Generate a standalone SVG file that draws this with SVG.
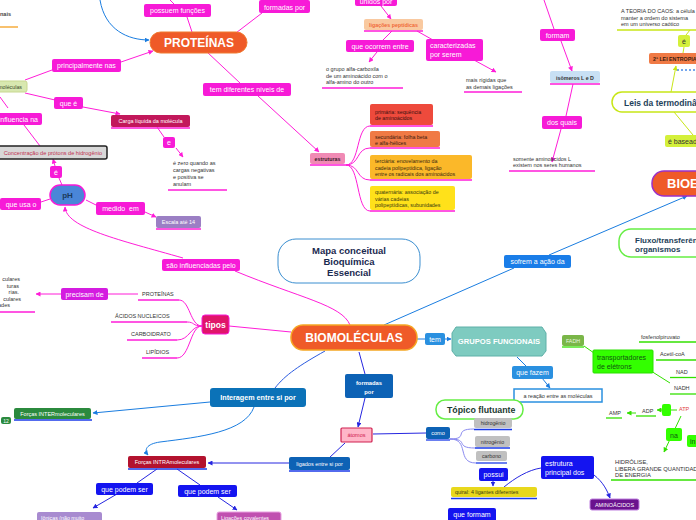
<svg xmlns="http://www.w3.org/2000/svg" width="696" height="520" viewBox="0 0 696 520">
<defs>
<style>
text{font-family:"Liberation Sans",Arial,sans-serif}
.mg{fill:#f71ad7}
.mt{fill:#fff;font-size:7px;text-anchor:middle}
.sm{fill:#333;font-size:5.5px}
.wb{fill:#fff;font-size:5.5px;text-anchor:middle}
.lm{stroke:#ff1dd8;fill:none;stroke-width:1}
.lb{stroke:#1a7de0;fill:none;stroke-width:1}
.ld{stroke:#2626e0;fill:none;stroke-width:1}
.lg{stroke:#33e000;fill:none;stroke-width:1}
.ly{stroke:#c8e617;fill:none;stroke-width:1}
.um{stroke:#ff1dd8;stroke-width:1.3}
.ub{stroke:#1a3ae8;stroke-width:1.3}
.ug{stroke:#33e000;stroke-width:1.3}
.bt{fill:#1e3f5a;font-weight:bold}
</style>
<marker id="am" viewBox="0 0 10 10" refX="9" refY="5" markerWidth="5" markerHeight="5" orient="auto"><path d="M0 0L10 5L0 10z" fill="#ff1dd8"/></marker>
<marker id="ab" viewBox="0 0 10 10" refX="9" refY="5" markerWidth="5" markerHeight="5" orient="auto"><path d="M0 0L10 5L0 10z" fill="#1a7de0"/></marker>
<marker id="ad" viewBox="0 0 10 10" refX="9" refY="5" markerWidth="5" markerHeight="5" orient="auto"><path d="M0 0L10 5L0 10z" fill="#2626e0"/></marker>
<marker id="ag" viewBox="0 0 10 10" refX="9" refY="5" markerWidth="5" markerHeight="5" orient="auto"><path d="M0 0L10 5L0 10z" fill="#33e000"/></marker>
<marker id="ay" viewBox="0 0 10 10" refX="9" refY="5" markerWidth="5" markerHeight="5" orient="auto"><path d="M0 0L10 5L0 10z" fill="#c8e617"/></marker>
</defs>
<rect width="696" height="520" fill="#fff"/>

<g id="connectors">
<path class="lb" d="M100 0C105 30 128 40 149 40" marker-end="url(#ab)"/>
<path class="lm" d="M170 0L174 4M187 17L192 32"/>
<path class="lm" d="M232 36L262 13"/>
<path class="lm" d="M381 6L391 19" marker-end="url(#am)"/>
<path class="lm" d="M392 31L383 40"/>
<path class="lm" d="M377 52L369 62" marker-end="url(#am)"/>
<path class="lm" d="M417 31L433 40"/>
<path class="lm" d="M474 60L496 72" marker-end="url(#am)"/>
<path class="lm" d="M544 0L554 29"/>
<path class="lm" d="M561 41L572 71" marker-end="url(#am)"/>
<path class="lm" d="M573 84L566 116"/>
<path class="lm" d="M561 129L552 162" marker-end="url(#am)"/>
<path class="lm" d="M207 52L240 83"/>
<path class="lm" d="M258 96L319 152" marker-end="url(#am)"/>
<path class="lm" d="M346 165C360 165 356 126 370 126M346 165C360 165 356 148 370 148M346 165C360 165 356 180 370 180M346 165C360 165 356 211 370 211"/>
<path class="lm" d="M25 80L52 70M121 62L153 51" marker-end="url(#am)"/>
<path class="lm" d="M25 93L55 100"/>
<path class="lm" d="M83 107L120 114" marker-end="url(#am)"/>
<path class="lm" d="M0 97L8 108M24 125L40 146"/>
<path class="lm" d="M157 127L164 137"/>
<path class="lm" d="M176 148L183 157" marker-end="url(#am)"/>
<path class="lm" d="M62 185L59 178"/>
<path class="lm" d="M55 166L53 159" marker-end="url(#am)"/>
<path class="lm" d="M50 199L41 202"/>
<path class="lm" d="M86 200L96 205"/>
<path class="lm" d="M145 212L156 217" marker-end="url(#am)"/>
<path class="lm" d="M183 258C120 240 66 228 65 207" marker-end="url(#am)"/>
<path class="lm" d="M235 271C300 298 342 305 350 325"/>
<path class="lm" d="M229 326L291 332"/>
<path class="lm" d="M202 326C190 326 190 300 179 300M202 326C192 326 195 322 187 322M202 326C190 326 190 340 177 340M202 326C190 326 190 358 177 358"/>
<path class="lm" d="M138 294L108 294"/>
<path class="lm" d="M61 294L36 294" marker-end="url(#am)"/>
<path class="lb" d="M549 255L687 196" marker-end="url(#ab)"/>
<path class="lb" d="M384 325L514 268"/>
<path class="lb" d="M417 339L425 339"/>
<path class="lb" d="M445 339L451 339" marker-end="url(#ab)"/>
<path class="lb" d="M517 357L526 366"/>
<path class="lb" d="M542 378L550 388" marker-end="url(#ab)"/>
<path class="lb" d="M325 351C300 365 285 375 275 388" style="stroke:#2a5ae0"/>
<path class="ld" d="M359 352L365 374"/>
<path class="lb" d="M210 402L93 413" marker-end="url(#ab)"/>
<path class="lb" d="M254 407C245 432 200 437 160 442C146 444 144 450 148 455" marker-end="url(#ab)"/>
<path class="ld" d="M289 463L208 463" marker-end="url(#ad)"/>
<path class="ld" d="M157 469L137 483"/>
<path class="ld" d="M117 494L93 508" marker-end="url(#ad)"/>
<path class="ld" d="M177 469L200 485"/>
<path class="ld" d="M218 497L237 510" marker-end="url(#ad)"/>
<path class="ld" d="M365 398L358 427" marker-end="url(#ad)"/>
<path class="ld" d="M345 443L329 458"/>
<path class="ld" d="M373 434L426 433"/>
<path class="ld" d="M450 439C470 439 452 429 474 429M450 439C470 439 454 448 475 448M450 439C470 439 456 463 476 463" style="stroke:#8a8af0"/>
<path class="ld" d="M493 481L493 486" marker-end="url(#ad)"/>
<path class="ld" d="M504 487C515 478 528 470 541 468"/>
<path class="ld" d="M594 475C603 482 607 490 610 498" marker-end="url(#ad)"/>
<path class="lg" d="M584 346L594 353"/>
<path class="lg" d="M651 371L670 383"/>
<path class="lg" d="M681 416L664 452" marker-end="url(#ag)"/>
<path class="lg" d="M662 410L657 410" marker-end="url(#ag)"/>
<path class="lg" d="M636 413L627 413" marker-end="url(#ag)"/>
<path class="lg" d="M671 410L677 410"/>
<path class="ly" d="M671 92L676 66" marker-end="url(#ay)"/>
<path class="ly" d="M683 53L684 47M686 35L690 30"/>
<path class="ly" d="M674 112L693 135"/>
</g>

<g id="n-nais"><text x="0" y="16" style="fill:#444;font-size:5.5px;font-weight:bold">nais</text><line x1="0" y1="27" x2="18" y2="27" stroke="#f5a020" stroke-width="1.3"/></g>
<g id="n-proteinas"><rect x="150" y="32" width="97" height="21" rx="10.5" fill="#ef5a28" stroke="#f07a30"/><text x="199" y="47" style="fill:#fff;font-size:12px;font-weight:bold;text-anchor:middle">PROTEÍNAS</text></g>
<g id="n-possuem"><rect class="mg" x="144" y="4" width="67" height="13" rx="2"/><text class="mt" x="177.5" y="13">possuem funções</text></g>
<g id="n-formadas1"><rect class="mg" x="259" y="0" width="51" height="13" rx="2"/><text class="mt" x="284.5" y="9.5">formadas por</text></g>
<g id="n-unidos"><rect class="mg" x="355" y="-4" width="42" height="10" rx="2"/><text class="mt" x="376" y="3.5">unidos por</text></g>
<g id="n-ligpep"><rect x="364" y="19" width="59" height="11" rx="2" fill="#f9c9a0"/><line class="um" x1="364" y1="31" x2="423" y2="31"/><text x="393.5" y="27" style="fill:#f06a3a;font-size:5.3px;font-weight:bold;text-anchor:middle">ligações peptídicas</text></g>
<g id="n-ocorrem"><rect class="mg" x="346" y="40" width="68" height="12" rx="2"/><text class="mt" x="380" y="48.5">que ocorrem entre</text></g>
<g id="n-grupo"><text class="sm" x="326" y="71">o grupo alfa-carboxila</text><text class="sm" x="326" y="77.5">de um aminoácido com o</text><text class="sm" x="326" y="84">alfa-amino do outro</text><line class="um" x1="322" y1="88" x2="403" y2="88"/></g>
<g id="n-caract"><rect class="mg" x="426" y="39" width="57" height="22" rx="2"/><text x="430" y="48" style="fill:#fff;font-size:7px">caracterizadas</text><text x="430" y="57" style="fill:#fff;font-size:7px">por serem</text></g>
<g id="n-rigidas"><text class="sm" x="466" y="82">mais rígidas que</text><text class="sm" x="466" y="88.5">as demais ligações</text><line class="um" x1="464" y1="92" x2="522" y2="92"/></g>
<g id="n-formam"><rect class="mg" x="540" y="29" width="35" height="12" rx="2"/><text class="mt" x="557.5" y="37.5">formam</text></g>
<g id="n-isomeros"><rect x="550" y="71" width="50" height="12" rx="2" fill="#c8e0f4"/><line class="um" x1="550" y1="84" x2="600" y2="84"/><text x="575" y="79.5" style="fill:#333;font-size:5.3px;font-weight:bold;text-anchor:middle">isômeros L e D</text></g>
<g id="n-dosquais"><rect class="mg" x="542" y="116" width="40" height="13" rx="2"/><text class="mt" x="562" y="125">dos quais</text></g>
<g id="n-somente"><text class="sm" x="513" y="160.5">somente aminoácidos L</text><text class="sm" x="513" y="167">existem nos seres humanos</text><line class="um" x1="509" y1="171" x2="595" y2="171"/></g>
<g id="n-caos"><text class="sm" x="621" y="13">A TEORIA DO CAOS: a célula luta para</text><text class="sm" x="621" y="19.5">manter a ordem do sistema</text><text class="sm" x="621" y="26">em um universo caótico</text><line x1="617" y1="30" x2="696" y2="30" stroke="#c8e617" stroke-width="1.3"/></g>
<g id="n-e1"><rect x="678" y="35" width="12" height="12" rx="2" fill="#d4f03a"/><text x="684" y="44" style="fill:#333;font-size:7px;text-anchor:middle">é</text></g>
<g id="n-lei"><rect x="649" y="53" width="50" height="11" rx="2" fill="#f07a45"/><text x="653" y="60.5" style="fill:#3a1a10;font-size:5.3px;font-weight:bold">2ª LEI ENTROPIA</text><line x1="677" y1="70" x2="696" y2="70" stroke="#4a8ae8" stroke-width="1.5" stroke-dasharray="2,2"/></g>
<g id="n-leis"><rect x="612" y="92" width="95" height="20" rx="10" fill="#fff" stroke="#c8e617" stroke-width="1.5"/><text class="bt" x="624" y="106" style="font-size:8.5px">Leis da termodinâmica</text></g>
<g id="n-baseado"><rect x="665" y="135" width="36" height="12" rx="2" fill="#d4f03a"/><text x="668" y="144" style="fill:#333;font-size:7px">é baseado</text></g>
<g id="n-bioe"><rect x="652" y="171" width="70" height="25" rx="12" fill="#ef5a28" stroke="#9b30c8" stroke-width="1.5"/><text x="667" y="188" style="fill:#fff;font-size:13px;font-weight:bold">BIOENERGÉTICA</text></g>
<g id="n-fluxo"><rect x="619" y="229" width="95" height="28" rx="12" fill="#fff" stroke="#66ee44" stroke-width="1.5"/><text class="bt" x="635" y="243" style="font-size:8px">Fluxo/transferência</text><text class="bt" x="635" y="251.5" style="font-size:8px">organismos</text></g>
<g id="n-sofrem"><rect x="504" y="255" width="67" height="13" rx="2" fill="#1a7de8"/><text class="mt" x="537.5" y="264">sofrem a ação da</text></g>
<g id="n-mapa"><rect x="278" y="239" width="142" height="44" rx="18" fill="#fff" stroke="#3a8ed0"/><text x="349" y="254" style="fill:#1a2a50;font-size:9.5px;font-weight:bold;text-anchor:middle">Mapa conceitual</text><text x="349" y="265" style="fill:#1a2a50;font-size:9.5px;font-weight:bold;text-anchor:middle">Bioquímica</text><text x="349" y="276" style="fill:#1a2a50;font-size:9.5px;font-weight:bold;text-anchor:middle">Essencial</text></g>
<g id="n-biomol"><rect x="291" y="325" width="126" height="25" rx="12" fill="#ef5a28" stroke="#f5a623" stroke-width="1.5"/><text x="354" y="342" style="fill:#fff;font-size:12px;font-weight:bold;text-anchor:middle">BIOMOLÉCULAS</text></g>
<g id="n-tem"><rect x="425" y="333" width="20" height="12" rx="2" fill="#2a90e0"/><text class="mt" x="435" y="341.5">tem</text></g>
<g id="n-grupos"><path d="M456 327L542 327L546 333L546 351L542 356L456 356L452 351L452 333Z" fill="#7ecbc0" stroke="#5fb0a8"/><text x="499" y="344" style="fill:#fff;font-size:7.6px;font-weight:bold;text-anchor:middle">GRUPOS FUNCIONAIS</text></g>
<g id="n-fazem"><rect x="512" y="366" width="41" height="13" rx="2" fill="#2a90e0"/><text class="mt" x="532.5" y="375">que fazem</text></g>
<g id="n-reacao"><rect x="514" y="389" width="88" height="13" fill="#fff" stroke="#2a90e0" stroke-width="1.5"/><text class="sm" x="558" y="398" style="text-anchor:middle">a reação entre as moléculas</text></g>
<g id="n-tipos"><rect x="202" y="315" width="27" height="19" rx="3" fill="#e0156a" stroke="#f71ad7"/><text x="215.5" y="328" style="fill:#fff;font-size:8.5px;font-weight:bold;text-anchor:middle">tipos</text></g>
<g id="n-t-prot"><text class="sm" x="142" y="296">PROTEÍNAS</text><line class="um" x1="138" y1="300" x2="179" y2="300"/></g>
<g id="n-t-acid"><text class="sm" x="115" y="318">ÁCIDOS NUCLEICOS</text><line class="um" x1="111" y1="322" x2="187" y2="322"/></g>
<g id="n-t-carb"><text class="sm" x="131" y="336">CARBOIDRATO</text><line class="um" x1="127" y1="340" x2="177" y2="340"/></g>
<g id="n-t-lip"><text class="sm" x="146" y="354">LIPÍDIOS</text><line class="um" x1="142" y1="358" x2="177" y2="358"/></g>
<g id="n-precisam"><rect x="61" y="288" width="47" height="12" rx="2" fill="#d41ce0"/><text class="mt" x="84.5" y="296.5">precisam de</text></g>
<g id="n-culares"><text class="sm" x="20" y="281" style="text-anchor:end">culares</text><text class="sm" x="19" y="287.5" style="text-anchor:end">turas</text><text class="sm" x="19" y="294" style="text-anchor:end">rias.</text><text class="sm" x="21" y="300.5" style="text-anchor:end">culares</text><text class="sm" x="10" y="307" style="text-anchor:end">ades</text><line class="um" x1="0" y1="312" x2="35" y2="312"/></g>
<g id="n-influenciadas"><rect class="mg" x="162" y="259" width="78" height="12" rx="2"/><text class="mt" x="201" y="267.5">são influenciadas pelo</text></g>
<g id="n-ph"><rect x="50" y="185" width="35" height="20" rx="10" fill="#4a86d8" stroke="#f71ad7" stroke-width="1.5"/><text x="67.5" y="198" style="fill:#1a3a5a;font-size:8px;font-weight:bold;text-anchor:middle">pH</text></g>
<g id="n-e2"><rect class="mg" x="50" y="166" width="12" height="12" rx="2"/><text class="mt" x="56" y="174.5">é</text></g>
<g id="n-conc"><rect x="-5" y="146" width="112" height="13" rx="2" fill="#d8d8d8" stroke="#222" stroke-width="1.5"/><text x="102" y="155" style="fill:#c03050;font-size:5.6px;text-anchor:end">Concentração de prótons de hidrogênio</text></g>
<g id="n-influencia"><rect class="mg" x="-5" y="113" width="47" height="12" rx="2"/><text x="38" y="121.5" style="fill:#fff;font-size:7px;text-anchor:end">influencia na</text></g>
<g id="n-usa"><rect class="mg" x="0" y="198" width="41" height="12" rx="2"/><text class="mt" x="21" y="206.5">que usa o</text></g>
<g id="n-medido"><rect class="mg" x="96" y="202" width="49" height="13" rx="2"/><text class="mt" x="120.5" y="211" xml:space="preserve">medido  em</text></g>
<g id="n-escala"><rect x="156" y="216" width="45" height="12" rx="2" fill="#9b7fc4"/><line class="um" x1="156" y1="229" x2="201" y2="229"/><text class="wb" x="178.5" y="224">Escala até 14</text></g>
<g id="n-molec"><rect x="-5" y="81" width="32" height="11" rx="2" fill="#d8e8b0" stroke="#c8d890"/><text x="22" y="88.5" style="fill:#3a4a2a;font-size:5.3px;text-anchor:end">moléculas</text></g>
<g id="n-principal"><rect class="mg" x="52" y="59" width="69" height="13" rx="2"/><text class="mt" x="86.5" y="68">principalmente nas</text></g>
<g id="n-quee"><rect class="mg" x="54" y="97" width="29" height="12" rx="2"/><text class="mt" x="68.5" y="105.5">que é</text></g>
<g id="n-carga"><rect x="111" y="115" width="79" height="12" rx="2" fill="#c2185b"/><line class="um" x1="111" y1="128" x2="190" y2="128"/><text class="wb" x="150.5" y="123">Carga líquida da molécula</text></g>
<g id="n-e3"><rect class="mg" x="163" y="137" width="12" height="11" rx="2"/><text class="mt" x="169" y="145">e</text></g>
<g id="n-zero"><text class="sm" x="173" y="165">é zero quando as</text><text class="sm" x="173" y="172">cargas negativas</text><text class="sm" x="173" y="178.5">e positiva se</text><text class="sm" x="173" y="185.5">anulam</text><line class="um" x1="168" y1="190" x2="227" y2="190"/></g>
<g id="n-niveis"><rect class="mg" x="203" y="83" width="88" height="13" rx="2"/><text class="mt" x="247" y="92">tem diferentes níveis de</text></g>
<g id="n-estruturas"><rect x="310" y="153" width="35" height="11" rx="2" fill="#f08ab4"/><line class="um" x1="310" y1="165" x2="346" y2="165"/><text x="327.5" y="161" style="fill:#3a1a2a;font-size:5.3px;font-weight:bold;text-anchor:middle">estruturas</text></g>
<g id="n-primaria"><rect x="370" y="104" width="63" height="21" rx="2" fill="#ee4a3c"/><line class="um" x1="370" y1="126" x2="433" y2="126"/><text x="375" y="113.5" style="fill:#3a1010;font-size:5.3px">primária: sequência</text><text x="375" y="120" style="fill:#3a1010;font-size:5.3px">de aminoácidos</text></g>
<g id="n-secundaria"><rect x="370" y="131" width="70" height="16" rx="2" fill="#f07a45"/><line class="um" x1="370" y1="148" x2="440" y2="148"/><text x="375" y="139" style="fill:#3a1a10;font-size:5.3px">secundária: folha beta</text><text x="375" y="145" style="fill:#3a1a10;font-size:5.3px">e alfa-hélices</text></g>
<g id="n-terciaria"><rect x="370" y="155" width="102" height="24" rx="2" fill="#fbb829"/><line class="um" x1="370" y1="180" x2="472" y2="180"/><text x="375" y="163" style="fill:#3a2a10;font-size:5.3px">terciária: enovelamento da</text><text x="375" y="169.5" style="fill:#3a2a10;font-size:5.3px">cadeia polipeptídica, ligação</text><text x="375" y="176" style="fill:#3a2a10;font-size:5.3px">entre os radicais dos aminoácidos</text></g>
<g id="n-quaternaria"><rect x="370" y="186" width="85" height="24" rx="2" fill="#ffe11a"/><line class="um" x1="370" y1="211" x2="455" y2="211"/><text x="375" y="194" style="fill:#3a3a10;font-size:5.3px">quaternária: associação de</text><text x="375" y="200.5" style="fill:#3a3a10;font-size:5.3px">várias cadeias</text><text x="375" y="207" style="fill:#3a3a10;font-size:5.3px">polipeptídicas, subunidades</text></g>
<g id="n-interagem"><rect x="210" y="388" width="96" height="19" rx="3" fill="#0b72b8"/><text x="258" y="400" style="fill:#fff;font-size:7.2px;font-weight:bold;text-anchor:middle">Interagem entre si por</text></g>
<g id="n-inter"><rect x="14" y="408" width="77" height="11" rx="2" fill="#2b8a3e"/><line class="ub" x1="14" y1="420" x2="92" y2="420"/><text class="wb" x="52.5" y="415.5">Forças INTERmoleculares</text></g>
<g id="n-12"><rect x="1" y="417" width="10" height="7" rx="2" fill="#2b8a3e"/><text x="6" y="422.5" style="fill:#fff;font-size:5px;text-anchor:middle">12</text></g>
<g id="n-intra"><rect x="128" y="456" width="78" height="12" rx="2" fill="#b3122e"/><line class="ub" x1="128" y1="469" x2="207" y2="469"/><text class="wb" x="167" y="464">Forças INTRAmoleculares</text></g>
<g id="n-podem1"><rect x="96" y="483" width="57" height="12" rx="2" fill="#1414f0"/><text class="mt" x="124.5" y="491.5">que podem ser</text></g>
<g id="n-podem2"><rect x="178" y="485" width="59" height="12" rx="2" fill="#1414f0"/><text class="mt" x="207.5" y="493.5">que podem ser</text></g>
<g id="n-ionicas"><rect x="37" y="512" width="65" height="12" rx="2" fill="#a88bd0"/><text x="41" y="519.5" style="fill:#fff;font-size:5.3px">Iônicas (não muito</text></g>
<g id="n-covalentes"><rect x="217" y="512" width="64" height="12" rx="2" fill="#c050b0" stroke="#e8a0e0"/><text x="221" y="519.5" style="fill:#fff;font-size:5.3px">Ligações covalentes</text></g>
<g id="n-formadas2"><rect x="345" y="374" width="48" height="24" rx="2" fill="#0d62b5"/><text x="369" y="385" style="fill:#fff;font-size:5.8px;font-weight:bold;text-anchor:middle">formadas</text><text x="369" y="393.5" style="fill:#fff;font-size:5.8px;font-weight:bold;text-anchor:middle">por</text></g>
<g id="n-atomos"><rect x="341" y="428" width="31" height="14" rx="1" fill="#ffb6c8" stroke="#d02050" stroke-width="1.2"/><text x="356.5" y="437" style="fill:#d02050;font-size:5.5px;text-anchor:middle">átomos</text></g>
<g id="n-ligados"><rect x="289" y="457" width="61" height="13" rx="2" fill="#0d62b5"/><line class="ub" x1="289" y1="471" x2="350" y2="471"/><text class="wb" x="319.5" y="465.5">ligados entre si por</text></g>
<g id="n-como"><rect x="426" y="427" width="24" height="12" rx="2" fill="#0d62b5"/><line class="ub" x1="426" y1="440" x2="450" y2="440"/><text class="wb" x="438" y="435">como</text></g>
<g id="n-topico"><rect x="436" y="400" width="87" height="19" rx="9" fill="#fff" stroke="#66ee44" stroke-width="1.5"/><text class="bt" x="447" y="413" style="font-size:8.8px;fill:#1a3a30">Tópico flutuante</text></g>
<g id="n-hidro"><rect x="474" y="418" width="38" height="10" rx="2" fill="#c0c0c0"/><line class="ub" x1="474" y1="429.5" x2="512" y2="429.5"/><text x="493" y="425" style="fill:#333;font-size:5.3px;text-anchor:middle">hidrogênio</text></g>
<g id="n-nitro"><rect x="475" y="436" width="35" height="11" rx="2" fill="#c0c0c0"/><line class="ub" x1="475" y1="448" x2="510" y2="448"/><text x="492.5" y="443.5" style="fill:#333;font-size:5.3px;text-anchor:middle">nitrogênio</text></g>
<g id="n-carbono"><rect x="476" y="451" width="31" height="10" rx="2" fill="#c0c0c0"/><line class="ub" x1="476" y1="463" x2="507" y2="463"/><text x="491.5" y="458" style="fill:#333;font-size:5.3px;text-anchor:middle">carbono</text></g>
<g id="n-possui"><rect x="479" y="468" width="29" height="13" rx="2" fill="#1414f0"/><text class="mt" x="493.5" y="477">possui</text></g>
<g id="n-quiral"><rect x="451" y="487" width="86" height="10" rx="2" fill="#e8d81c"/><line class="ub" x1="451" y1="498.5" x2="537" y2="498.5"/><text x="455" y="494" style="fill:#3a3a10;font-size:5.3px">quiral: 4 ligantes diferentes</text></g>
<g id="n-queformam"><rect x="448" y="508" width="48" height="14" rx="2" fill="#1414f0"/><text class="mt" x="472" y="517">que formam</text></g>
<g id="n-estrutura"><rect x="541" y="456" width="53" height="23" rx="2" fill="#1414f0"/><text x="545" y="465.5" style="fill:#fff;font-size:7px">estrutura</text><text x="545" y="474.5" style="fill:#fff;font-size:7px">principal dos</text></g>
<g id="n-aminoacidos"><rect x="590" y="499" width="49" height="11" rx="2" fill="#6a128e" stroke="#c080e0"/><text class="wb" x="614.5" y="506.5">AMINOÁCIDOS</text></g>
<g id="n-fadh"><rect x="562" y="335" width="22" height="11" rx="2" fill="#7ab648"/><line class="ug" x1="562" y1="347" x2="584" y2="347"/><text x="573" y="342.5" style="fill:#eaf8e0;font-size:5.3px;text-anchor:middle">FADH</text></g>
<g id="n-transp"><rect x="593" y="350" width="60" height="23" rx="1" fill="#33ff00" stroke="#2adf00"/><text x="597" y="360" style="fill:#115511;font-size:7px">transportadores</text><text x="597" y="368.5" style="fill:#115511;font-size:7px">de elétrons</text></g>
<g id="n-fosfo"><text class="sm" x="641" y="338.5">fosfenolpiruvato</text><line class="ug" x1="639" y1="342" x2="696" y2="342"/></g>
<g id="n-acetil"><text class="sm" x="660" y="356">Acetil-coA</text><line class="ug" x1="656" y1="360" x2="696" y2="360"/></g>
<g id="n-nad"><text class="sm" x="676" y="374">NAD</text><line class="ug" x1="670" y1="377.5" x2="696" y2="377.5"/></g>
<g id="n-nadh"><text class="sm" x="674" y="389.5">NADH</text><line class="ug" x1="670" y1="394" x2="696" y2="394"/></g>
<g id="n-amp"><text class="sm" x="609" y="415">AMP</text><line class="ug" x1="606" y1="418" x2="622" y2="418"/></g>
<g id="n-adp"><text class="sm" x="642" y="413">ADP</text><line class="ug" x1="636" y1="416" x2="656" y2="416"/></g>
<g id="n-gbox"><rect x="662" y="404" width="9" height="12" rx="2" fill="#33ff00"/></g>
<g id="n-atp"><text x="679" y="411" style="fill:#e04040;font-size:5.5px">ATP</text></g>
<g id="n-na"><rect x="666" y="428" width="16" height="13" rx="2" fill="#33ff00"/><text x="674" y="437.5" style="fill:#115511;font-size:7px;text-anchor:middle">na</text></g>
<g id="n-in"><rect x="687" y="435" width="15" height="12" rx="2" fill="#33ff00"/><text x="690" y="444" style="fill:#115511;font-size:7px">in</text></g>
<g id="n-hidrolise"><text x="615" y="464" style="fill:#333;font-size:5.8px">HIDRÓLISE,</text><text x="615" y="470.5" style="fill:#333;font-size:5.8px">LIBERA GRANDE QUANTIDADE</text><text x="615" y="477" style="fill:#333;font-size:5.8px">DE ENERGIA</text><line class="ug" x1="611" y1="480" x2="696" y2="480"/></g>
</svg>
